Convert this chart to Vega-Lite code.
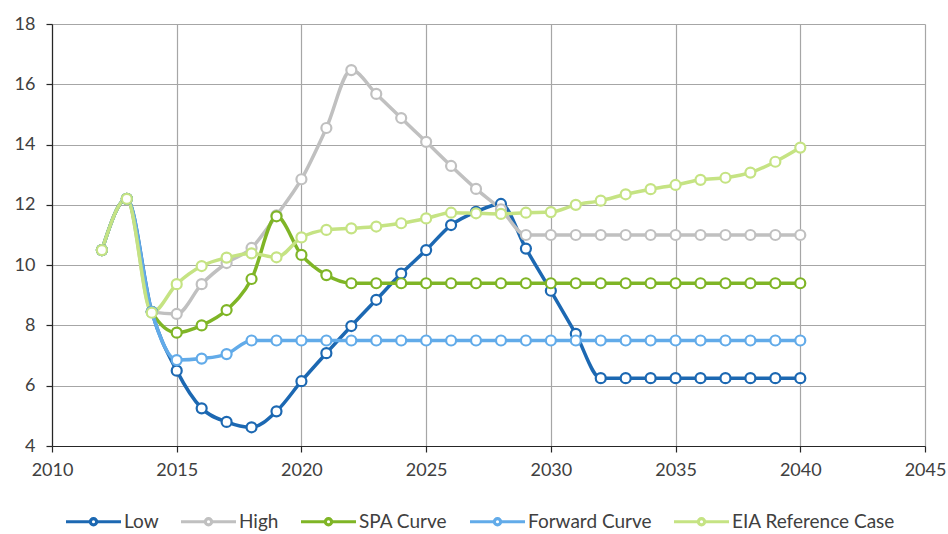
{
  "$schema": "https://vega.github.io/schema/vega-lite/v6.json",
  "autosize": "none",
  "width": 873,
  "height": 422,
  "padding": {"left": 52, "top": 24, "right": 23, "bottom": 88},
  "background": "white",
  "config": {
    "view": {"stroke": null},
    "font": "Lato",
    "axis": {
      "labelFont": "Lato",
      "labelFontSize": 18,
      "labelColor": "#404040",
      "domainColor": "#262626",
      "domainWidth": 1.2,
      "tickColor": "#262626",
      "tickWidth": 1.2,
      "tickSize": 6,
      "gridColor": "#a6a6a6",
      "gridWidth": 1.2,
      "gridOpacity": 1,
      "title": null
    }
  },
  "datasets": {
    "prices": [
      {"series": "Low", "year": 2012, "price": 10.5},
      {"series": "Low", "year": 2013, "price": 12.2},
      {"series": "Low", "year": 2014, "price": 8.45},
      {"series": "Low", "year": 2015, "price": 6.5},
      {"series": "Low", "year": 2016, "price": 5.25},
      {"series": "Low", "year": 2017, "price": 4.8},
      {"series": "Low", "year": 2018, "price": 4.62},
      {"series": "Low", "year": 2019, "price": 5.15},
      {"series": "Low", "year": 2020, "price": 6.15},
      {"series": "Low", "year": 2021, "price": 7.08},
      {"series": "Low", "year": 2022, "price": 7.98},
      {"series": "Low", "year": 2023, "price": 8.85},
      {"series": "Low", "year": 2024, "price": 9.72},
      {"series": "Low", "year": 2025, "price": 10.5},
      {"series": "Low", "year": 2026, "price": 11.33},
      {"series": "Low", "year": 2027, "price": 11.77},
      {"series": "Low", "year": 2028, "price": 12.03},
      {"series": "Low", "year": 2029, "price": 10.55},
      {"series": "Low", "year": 2030, "price": 9.15},
      {"series": "Low", "year": 2031, "price": 7.72},
      {"series": "Low", "year": 2032, "price": 6.25},
      {"series": "Low", "year": 2033, "price": 6.25},
      {"series": "Low", "year": 2034, "price": 6.25},
      {"series": "Low", "year": 2035, "price": 6.25},
      {"series": "Low", "year": 2036, "price": 6.25},
      {"series": "Low", "year": 2037, "price": 6.25},
      {"series": "Low", "year": 2038, "price": 6.25},
      {"series": "Low", "year": 2039, "price": 6.25},
      {"series": "Low", "year": 2040, "price": 6.25},

      {"series": "High", "year": 2012, "price": 10.5},
      {"series": "High", "year": 2013, "price": 12.2},
      {"series": "High", "year": 2014, "price": 8.45},
      {"series": "High", "year": 2015, "price": 8.38},
      {"series": "High", "year": 2016, "price": 9.37},
      {"series": "High", "year": 2017, "price": 10.07},
      {"series": "High", "year": 2018, "price": 10.57},
      {"series": "High", "year": 2019, "price": 11.65},
      {"series": "High", "year": 2020, "price": 12.85},
      {"series": "High", "year": 2021, "price": 14.55},
      {"series": "High", "year": 2022, "price": 16.47},
      {"series": "High", "year": 2023, "price": 15.68},
      {"series": "High", "year": 2024, "price": 14.88},
      {"series": "High", "year": 2025, "price": 14.09},
      {"series": "High", "year": 2026, "price": 13.29},
      {"series": "High", "year": 2027, "price": 12.53},
      {"series": "High", "year": 2028, "price": 11.85},
      {"series": "High", "year": 2029, "price": 11.0},
      {"series": "High", "year": 2030, "price": 11.0},
      {"series": "High", "year": 2031, "price": 11.0},
      {"series": "High", "year": 2032, "price": 11.0},
      {"series": "High", "year": 2033, "price": 11.0},
      {"series": "High", "year": 2034, "price": 11.0},
      {"series": "High", "year": 2035, "price": 11.0},
      {"series": "High", "year": 2036, "price": 11.0},
      {"series": "High", "year": 2037, "price": 11.0},
      {"series": "High", "year": 2038, "price": 11.0},
      {"series": "High", "year": 2039, "price": 11.0},
      {"series": "High", "year": 2040, "price": 11.0},

      {"series": "SPA Curve", "year": 2012, "price": 10.5},
      {"series": "SPA Curve", "year": 2013, "price": 12.2},
      {"series": "SPA Curve", "year": 2014, "price": 8.45},
      {"series": "SPA Curve", "year": 2015, "price": 7.76},
      {"series": "SPA Curve", "year": 2016, "price": 8.0},
      {"series": "SPA Curve", "year": 2017, "price": 8.51},
      {"series": "SPA Curve", "year": 2018, "price": 9.54},
      {"series": "SPA Curve", "year": 2019, "price": 11.62},
      {"series": "SPA Curve", "year": 2020, "price": 10.34},
      {"series": "SPA Curve", "year": 2021, "price": 9.67},
      {"series": "SPA Curve", "year": 2022, "price": 9.4},
      {"series": "SPA Curve", "year": 2023, "price": 9.4},
      {"series": "SPA Curve", "year": 2024, "price": 9.4},
      {"series": "SPA Curve", "year": 2025, "price": 9.4},
      {"series": "SPA Curve", "year": 2026, "price": 9.4},
      {"series": "SPA Curve", "year": 2027, "price": 9.4},
      {"series": "SPA Curve", "year": 2028, "price": 9.4},
      {"series": "SPA Curve", "year": 2029, "price": 9.4},
      {"series": "SPA Curve", "year": 2030, "price": 9.4},
      {"series": "SPA Curve", "year": 2031, "price": 9.4},
      {"series": "SPA Curve", "year": 2032, "price": 9.4},
      {"series": "SPA Curve", "year": 2033, "price": 9.4},
      {"series": "SPA Curve", "year": 2034, "price": 9.4},
      {"series": "SPA Curve", "year": 2035, "price": 9.4},
      {"series": "SPA Curve", "year": 2036, "price": 9.4},
      {"series": "SPA Curve", "year": 2037, "price": 9.4},
      {"series": "SPA Curve", "year": 2038, "price": 9.4},
      {"series": "SPA Curve", "year": 2039, "price": 9.4},
      {"series": "SPA Curve", "year": 2040, "price": 9.4},

      {"series": "Forward Curve", "year": 2012, "price": 10.5},
      {"series": "Forward Curve", "year": 2013, "price": 12.2},
      {"series": "Forward Curve", "year": 2014, "price": 8.45},
      {"series": "Forward Curve", "year": 2015, "price": 6.85},
      {"series": "Forward Curve", "year": 2016, "price": 6.9},
      {"series": "Forward Curve", "year": 2017, "price": 7.05},
      {"series": "Forward Curve", "year": 2018, "price": 7.5},
      {"series": "Forward Curve", "year": 2019, "price": 7.5},
      {"series": "Forward Curve", "year": 2020, "price": 7.5},
      {"series": "Forward Curve", "year": 2021, "price": 7.5},
      {"series": "Forward Curve", "year": 2022, "price": 7.5},
      {"series": "Forward Curve", "year": 2023, "price": 7.5},
      {"series": "Forward Curve", "year": 2024, "price": 7.5},
      {"series": "Forward Curve", "year": 2025, "price": 7.5},
      {"series": "Forward Curve", "year": 2026, "price": 7.5},
      {"series": "Forward Curve", "year": 2027, "price": 7.5},
      {"series": "Forward Curve", "year": 2028, "price": 7.5},
      {"series": "Forward Curve", "year": 2029, "price": 7.5},
      {"series": "Forward Curve", "year": 2030, "price": 7.5},
      {"series": "Forward Curve", "year": 2031, "price": 7.5},
      {"series": "Forward Curve", "year": 2032, "price": 7.5},
      {"series": "Forward Curve", "year": 2033, "price": 7.5},
      {"series": "Forward Curve", "year": 2034, "price": 7.5},
      {"series": "Forward Curve", "year": 2035, "price": 7.5},
      {"series": "Forward Curve", "year": 2036, "price": 7.5},
      {"series": "Forward Curve", "year": 2037, "price": 7.5},
      {"series": "Forward Curve", "year": 2038, "price": 7.5},
      {"series": "Forward Curve", "year": 2039, "price": 7.5},
      {"series": "Forward Curve", "year": 2040, "price": 7.5},

      {"series": "EIA Reference Case", "year": 2012, "price": 10.5},
      {"series": "EIA Reference Case", "year": 2013, "price": 12.2},
      {"series": "EIA Reference Case", "year": 2014, "price": 8.42},
      {"series": "EIA Reference Case", "year": 2015, "price": 9.37},
      {"series": "EIA Reference Case", "year": 2016, "price": 9.97},
      {"series": "EIA Reference Case", "year": 2017, "price": 10.25},
      {"series": "EIA Reference Case", "year": 2018, "price": 10.39},
      {"series": "EIA Reference Case", "year": 2019, "price": 10.26},
      {"series": "EIA Reference Case", "year": 2020, "price": 10.92},
      {"series": "EIA Reference Case", "year": 2021, "price": 11.17},
      {"series": "EIA Reference Case", "year": 2022, "price": 11.22},
      {"series": "EIA Reference Case", "year": 2023, "price": 11.28},
      {"series": "EIA Reference Case", "year": 2024, "price": 11.39},
      {"series": "EIA Reference Case", "year": 2025, "price": 11.55},
      {"series": "EIA Reference Case", "year": 2026, "price": 11.74},
      {"series": "EIA Reference Case", "year": 2027, "price": 11.72},
      {"series": "EIA Reference Case", "year": 2028, "price": 11.7},
      {"series": "EIA Reference Case", "year": 2029, "price": 11.74},
      {"series": "EIA Reference Case", "year": 2030, "price": 11.76},
      {"series": "EIA Reference Case", "year": 2031, "price": 12.0},
      {"series": "EIA Reference Case", "year": 2032, "price": 12.14},
      {"series": "EIA Reference Case", "year": 2033, "price": 12.35},
      {"series": "EIA Reference Case", "year": 2034, "price": 12.52},
      {"series": "EIA Reference Case", "year": 2035, "price": 12.66},
      {"series": "EIA Reference Case", "year": 2036, "price": 12.83},
      {"series": "EIA Reference Case", "year": 2037, "price": 12.9},
      {"series": "EIA Reference Case", "year": 2038, "price": 13.07},
      {"series": "EIA Reference Case", "year": 2039, "price": 13.43},
      {"series": "EIA Reference Case", "year": 2040, "price": 13.9}
    ]
  },
  "data": {"name": "prices"},
  "encoding": {
    "x": {
      "field": "year",
      "type": "quantitative",
      "scale": {"domain": [2010, 2045], "nice": false, "zero": false},
      "axis": {
        "values": [2010, 2015, 2020, 2025, 2030, 2035, 2040, 2045],
        "format": "d",
        "labelPadding": 9,
        "labelFlush": false
      }
    },
    "y": {
      "field": "price",
      "type": "quantitative",
      "scale": {"domain": [4, 18], "nice": false, "zero": false},
      "axis": {
        "values": [4, 6, 8, 10, 12, 14, 16, 18],
        "labelPadding": 11,
        "labelFlush": false
      }
    },
    "stroke": {
      "field": "series",
      "type": "nominal",
      "sort": ["Low", "High", "SPA Curve", "Forward Curve", "EIA Reference Case"],
      "scale": {
        "domain": ["Low", "High", "SPA Curve", "Forward Curve", "EIA Reference Case"],
        "range": ["#1C68B2", "#C0C0C0", "#7FB526", "#62ABE9", "#C5E383"]
      },
      "legend": {
        "title": null,
        "orient": "none",
        "direction": "horizontal",
        "legendX": 12,
        "legendY": 468,
        "symbolType": "M-1,0L-0.115,0M0.115,0L1,0M0.115,0A0.115,0.115 0 1,1 -0.115,0A0.115,0.115 0 1,1 0.115,0Z",
        "symbolSize": 3025,
        "symbolStrokeWidth": 3.2,
        "symbolFillColor": "white",
        "labelFont": "Lato",
        "labelFontSize": 19,
        "labelColor": "#404040",
        "labelLimit": 400,
        "labelOffset": 1,
        "columnPadding": 15
      }
    }
  },
  "layer": [
    {
      "mark": {"type": "line", "strokeWidth": 3.5, "interpolate": "monotone"}
    },
    {
      "mark": {"type": "point", "shape": "circle", "size": 100, "filled": false, "fill": "white", "fillOpacity": 1, "opacity": 1, "strokeWidth": 2.2}
    }
  ]
}
